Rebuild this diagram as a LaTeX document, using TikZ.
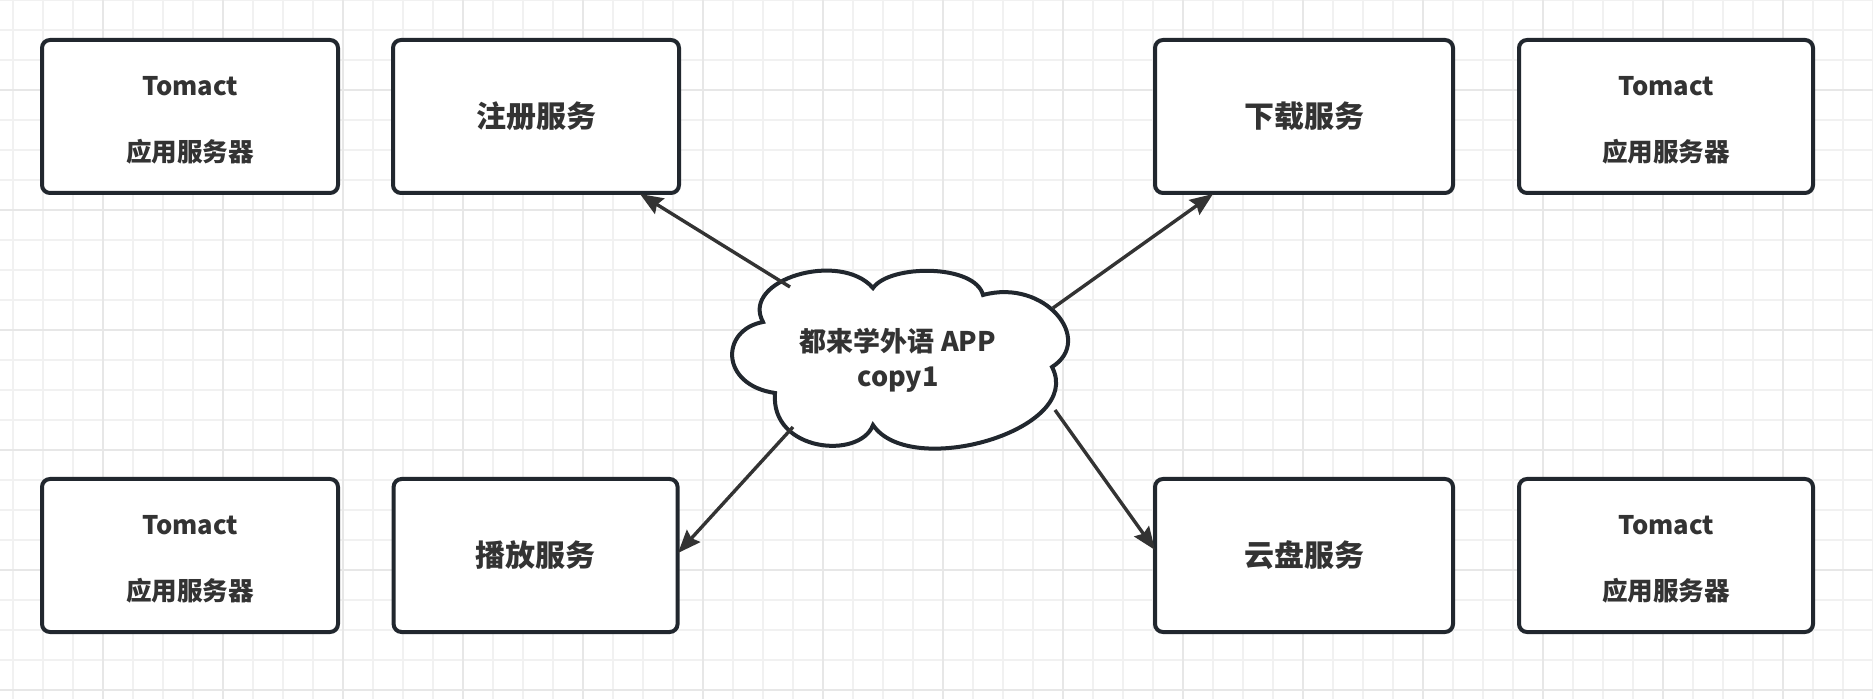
\documentclass[tikz,border=0pt]{standalone}
\usepackage{fontspec}
\setmainfont{Noto Sans CJK SC}
\usetikzlibrary{arrows.meta}
\definecolor{gridminor}{HTML}{F1F1F1}
\definecolor{gridmajor}{HTML}{E7E7E7}
\definecolor{edgec}{HTML}{21272E}
\definecolor{txt}{HTML}{333333}
\definecolor{arr}{HTML}{333333}
\newcommand{\srvtext}{\rule{0pt}{13pt}Tomact\\应用服务器}
\tikzset{
  box/.style={draw=edgec, line width=2pt, rounded corners=4pt, fill=white,
    minimum height=76.5pt, inner sep=0pt, text=txt,
    font=\bfseries\fontsize{15}{18}\selectfont},
  srv/.style={box, align=center, font=\bfseries\fontsize{12.8}{33}\selectfont},
  conn/.style={draw=arr, line width=1.7pt,
    -{Stealth[length=11.5pt,width=9pt,inset=1.5pt]}},
  cloudline/.style={draw=edgec, line width=2pt, fill=white},
  gminor/.style={draw=gridminor, line width=1pt},
  gmajor/.style={draw=gridmajor, line width=1pt},
}
\begin{document}
\begin{tikzpicture}[x=0.5pt,y=-0.5pt]
\useasboundingbox[fill=white] (0,0) rectangle (1873,699);
% grid
\foreach \k in {0,...,62} {\draw[gminor] (13.33+30*\k,0) -- (13.33+30*\k,699);}
\foreach \k in {0,...,23} {\draw[gminor] (0,30*\k) -- (1873,30*\k);}
\foreach \k in {0,...,15} {\draw[gmajor] (103.33+120*\k,0) -- (103.33+120*\k,699);}
\foreach \k in {0,...,5} {\draw[gmajor] (0,90+120*\k) -- (1873,90+120*\k);}

% boxes
\node[srv, minimum width=148pt] (t1) at (190,116.5) {\srvtext};
\node[box, minimum width=143pt] (reg) at (536,116.5) {注册服务};
\node[box, minimum width=149pt] (dl) at (1304,116.5) {下载服务};
\node[srv, minimum width=147pt] (t2) at (1666,116.5) {\srvtext};
\node[srv, minimum width=148pt] (t3) at (190,555.5) {\srvtext};
\node[box, minimum width=142pt] (play) at (535.6,555.5) {播放服务};
\node[box, minimum width=149pt] (cloudsvc) at (1304,555.5) {云盘服务};
\node[srv, minimum width=147pt] (t4) at (1666,555.5) {\srvtext};

% cloud
\draw[cloudline] (763,322) .. controls (740,280) and (840,250) .. (873,288)
  .. controls (890,264) and (975,264) .. (983,295)
  .. controls (1045,278) and (1095,340) .. (1052,367)
  .. controls (1085,430) and (910,480) .. (873,425)
  .. controls (860,460) and (770,452) .. (775,393)
  .. controls (720,385) and (720,330) .. (763,322) -- cycle;
\node[font=\bfseries\fontsize{13.5}{17.5}\selectfont, text=txt, align=center, inner sep=0pt] (app) at (898,360) {都来学外语 APP\\copy1};

% connector end points
\coordinate (a1) at (790,287);
\coordinate (a2) at (1053,308);
\coordinate (a3) at (793,427);
\coordinate (a4) at (1055,410);
\coordinate (e1) at (640,194);
\coordinate (e2) at (1213,194);
\coordinate (e3) at (678,553);
\coordinate (e4) at (1155,550);

\draw[conn] (a1) -- (e1);
\draw[conn] (a2) -- (e2);
\draw[conn] (a3) -- (e3);
\draw[conn] (a4) -- (e4);
\end{tikzpicture}
\end{document}
